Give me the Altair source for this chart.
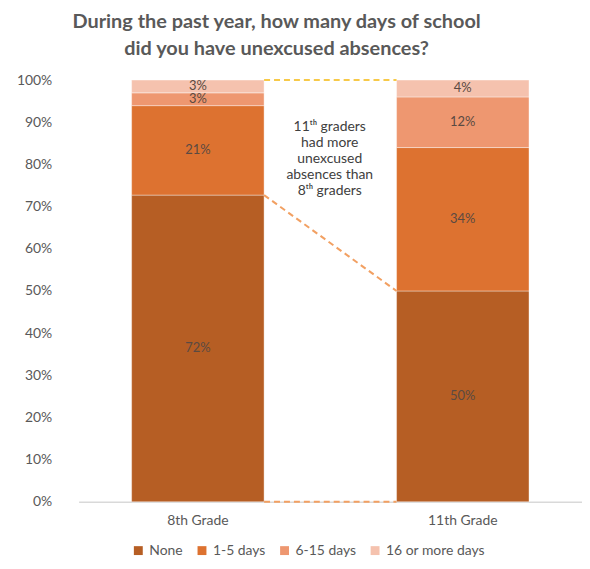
import altair as alt
import pandas as pd

grades = ["8th Grade", "11th Grade"]
categories = ["None", "1-5 days", "6-15 days", "16 or more days"]
values_8th = [72, 21, 3, 3]
values_11th = [50, 34, 12, 4]
colors = ["#B65E24", "#DD7230", "#EE9770", "#F5C2AE"]
note_lines = ["11ᵗʰ graders", "had more", "unexcused", "absences than", "8ᵗʰ graders"]
y_ticks = [0, 0.1, 0.2, 0.3, 0.4, 0.5, 0.6, 0.7, 0.8, 0.9, 1.0]

FONT = "Lato"
GRAY = "#595959"
W, H = 520, 424

rows = []
for g, vals in zip(grades, [values_8th, values_11th]):
    total = sum(vals)
    cum = 0.0
    for i, (c, v) in enumerate(zip(categories, vals)):
        start = cum / total
        cum += v
        end = cum / total
        rows.append({"grade": g, "cat": c, "idx": i, "value": v,
                     "y0": start, "y1": end, "mid": (start + end) / 2,
                     "label": f"{v}%"})
df = pd.DataFrame(rows)

none8 = df[(df.grade == grades[0]) & (df.cat == "None")].iloc[0]
none11 = df[(df.grade == grades[1]) & (df.cat == "None")].iloc[0]
conn = pd.DataFrame([
    {"a": grades[0], "b": grades[1], "ya": 1.0, "yb": 1.0, "kind": "top"},
    {"a": grades[0], "b": grades[1], "ya": none8.y1, "yb": none11.y1, "kind": "mid"},
    {"a": grades[0], "b": grades[1], "ya": 0.0, "yb": 0.0, "kind": "bottom"},
])

xscale = alt.Scale(domain=grades, range=[14, W], paddingInner=0.5, paddingOuter=0.2)
yscale = alt.Scale(domain=[0, 1])

x_axis = alt.Axis(title=None, labelAngle=0, ticks=False, domain=False,
                  labelColor=GRAY, labelFontSize=14, labelFont=FONT, labelPadding=12)
y_axis = alt.Axis(title=None, format=".0%", values=y_ticks, labelOverlap=False,
                  domain=False, ticks=False, grid=True,
                  gridColor={"condition": {"test": "datum.value === 0", "value": "#D9D9D9"},
                             "value": "rgba(0,0,0,0)"},
                  gridWidth=1.5,
                  labelColor=GRAY, labelFontSize=14, labelFont=FONT, labelPadding=13)

base = alt.Chart(df)

bars = base.mark_bar(stroke="white", strokeWidth=0.4).encode(
    x=alt.X("grade:N", scale=xscale, sort=grades, axis=x_axis),
    y=alt.Y("y0:Q", scale=yscale, axis=y_axis),
    y2="y1:Q",
    color=alt.Color("cat:N", scale=alt.Scale(domain=categories, range=colors),
                    legend=alt.Legend(title=None, orient="none", legendX=67, legendY=466,
                                      direction="horizontal",
                                      symbolType="square", symbolSize=80, symbolStrokeWidth=0,
                                      labelFontSize=14, labelFont=FONT, labelColor=GRAY,
                                      columnPadding=12, labelOffset=4, symbolOffset=0)),
    order=alt.Order("idx:Q", sort="ascending"),
)

labels = base.mark_text(font=FONT, fontSize=13, color="#5A4A42").encode(
    x=alt.X("grade:N", scale=xscale, sort=grades, axis=x_axis),
    y=alt.Y("mid:Q", scale=yscale, axis=y_axis),
    text="label:N",
)

rules = alt.Chart(conn).mark_rule(strokeDash=[6, 4], strokeWidth=2).encode(
    x=alt.X("a:N", scale=xscale, sort=grades, bandPosition=1, axis=x_axis),
    x2=alt.X2("b:N", bandPosition=0),
    y=alt.Y("ya:Q", scale=yscale, axis=y_axis),
    y2="yb:Q",
    color=alt.Color("kind:N", scale=alt.Scale(domain=["top", "mid", "bottom"],
                                              range=["#F7C948", "#F2A062", "#F2A062"]),
                    legend=None),
)

note = alt.Chart(pd.DataFrame({"g": [grades[0]], "t": ["\n".join(note_lines)], "y": [0.905]})).mark_text(
    font=FONT, fontSize=14, color="#404040", lineBreak="\n", lineHeight=16,
    baseline="top", align="center", dx=66,
).encode(
    x=alt.X("g:N", scale=xscale, sort=grades, bandPosition=1, axis=x_axis),
    y=alt.Y("y:Q", scale=yscale, axis=y_axis),
    text="t:N",
)

chart = alt.layer(bars, rules, labels, note).resolve_scale(color="independent").properties(
    width=W, height=H,
    padding={"left": 8, "right": 0, "top": 3, "bottom": 0},
    title=alt.Title(["During the past year, how many days of school", "did you have unexcused absences?"],
                    font=FONT, fontSize=20, fontWeight="bold", color=GRAY, anchor="middle",
                    dx=-47, lineHeight=27, offset=14),
).configure_view(stroke=None)

chart.save("out.html", embed_options={"renderer": "svg", "actions": False})
